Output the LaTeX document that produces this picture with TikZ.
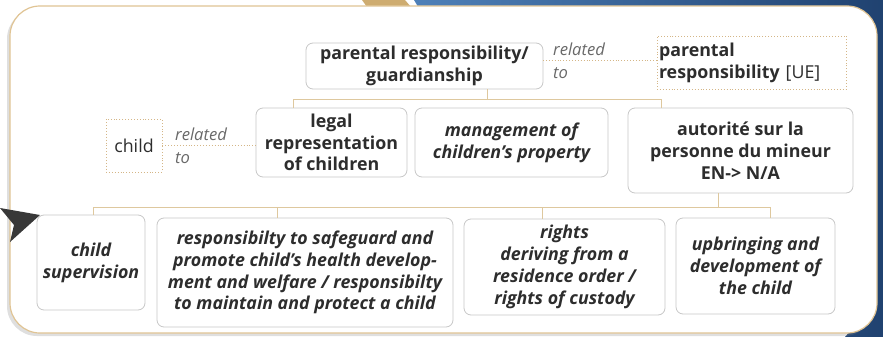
\documentclass[tikz,border=0pt]{standalone}
\usepackage{fontspec}
\setmainfont{Open Sans}
\usetikzlibrary{shadows}
\definecolor{ink}{RGB}{45,45,45}
\definecolor{relgray}{RGB}{105,105,105}
\definecolor{boxgray}{RGB}{200,200,200}
\definecolor{tanline}{RGB}{222,200,158}
\definecolor{dotbrown}{RGB}{212,182,135}
\definecolor{frametan}{RGB}{224,196,148}
\definecolor{stripetan}{RGB}{206,172,112}
\definecolor{bgblue}{RGB}{78,128,184}
\definecolor{bgdark}{RGB}{32,66,112}
\newcommand{\sz}{\fontsize{17.8}{21.8}\selectfont}
\newcommand{\relsz}{\fontsize{16.6}{22.5}\selectfont}

\begin{document}
\begin{tikzpicture}[x=1pt, y=-1pt,
    font=\sz,
    box/.style = {draw=boxgray, line width=0.8pt, rounded corners=7pt, align=center, text=ink, inner sep=1pt},
    dotbox/.style = {draw=dotbrown, dotted, line width=0.9pt, text=ink, inner sep=2pt},
    rel/.style = {text=relgray, align=left, font=\relsz\itshape, inner sep=0pt, anchor=west},
    conn/.style = {draw=tanline, line width=1pt},
    relline/.style = {draw=dotbrown, dotted, line width=0.9pt}]
      \useasboundingbox (0,0) rectangle (883,337);
      \shade [left color=bgblue, right color=bgdark] (414,0) -- (883,0) -- (883,337) -- (845,337) -- (860,320) -- (860,10) -- (420,10) -- cycle;
      \fill [stripetan] (362,0) -- (405,0) -- (411,7) -- (367,7) -- cycle;
      \draw [draw=frametan, fill=white, line width=1.2pt, rounded corners=30pt,
             drop shadow={shadow xshift=-3pt, shadow yshift=-3pt, opacity=0.25}] (10,6) rectangle (877,333);

      \node [box, font=\sz\bfseries, minimum width=237pt, minimum height=46pt] (prg) at (424.5,66) {parental responsibility/\\guardianship};
      \node [dotbox, align=left, text width=185pt, minimum height=53pt] (ue) at (751.5,62.5) {\textbf{parental}\\\textbf{responsibility} [UE]};
      \node [rel] (rel1) at (553,61) {related\\to};
      \coordinate (r1) at (543,60);
      \draw [relline] (r1) -- (r1 -| ue.west);

      \node [box, font=\sz\bfseries, minimum width=151pt, minimum height=69pt] (legal) at (331.5,142.5) {legal\\representation\\of children};
      \node [box, font=\sz\bfseries\itshape, minimum width=193pt, minimum height=69pt] (mgmt) at (511.5,142.5) {management of\\children’s property};
      \node [box, font=\sz\bfseries, minimum width=225pt, minimum height=85pt] (autor) at (740.5,150.5) {autorité sur la\\personne du mineur\\EN-> N/A};
      \node [dotbox, minimum width=56pt, minimum height=53pt] (child) at (134,145.5) {child};
      \node [rel] (rel2) at (175,146) {related\\to};
      \draw [relline] (child.east) -- (child.east -| legal.west);

      \node [box, font=\sz\bfseries\itshape, minimum width=108pt, minimum height=95pt] (sup) at (91,262.5) {child\\supervision};
      \node [box, font=\sz\bfseries\itshape, minimum width=296pt, minimum height=109pt] (safe) at (305,272.5) {responsibilty to safeguard and\\promote child’s health develop-\\ment and welfare / responsibilty\\to maintain and protect a child};
      \node [box, font=\sz\bfseries\itshape, minimum width=201pt, minimum height=96pt] (rights) at (564.5,267) {rights\\deriving from a\\residence order /\\rights of custody};
      \node [box, font=\sz\bfseries\itshape, minimum width=159pt, minimum height=96pt] (upbr) at (755.5,266) {upbringing and\\development of\\the child};

      \coordinate (j1) at (487,99);
      \coordinate (b1l) at (293,99);
      \coordinate (b1r) at (661,99);
      \draw [conn] (prg.south -| j1) -- (j1);
      \draw [conn] (legal.north -| b1l) |- (b1r) -- (autor.north -| b1r);

      \coordinate (j2) at (718,207);
      \coordinate (b2l) at (93,207);
      \coordinate (b2r) at (770,207);
      \coordinate (dsafe) at (277,207);
      \coordinate (drights) at (542,207);
      \draw [conn] (autor.south -| j2) -- (j2);
      \draw [conn] (sup.north -| b2l) |- (b2r) -- (upbr.north -| b2r);
      \foreach \n in {safe, rights}
               {
                 \draw [conn] (d\n) -- (\n.north -| d\n);
               }

      \fill [black!78] (0,208) -- (40,215) -- (10,242) -- (14,225) -- cycle;
\end{tikzpicture}
\end{document}
